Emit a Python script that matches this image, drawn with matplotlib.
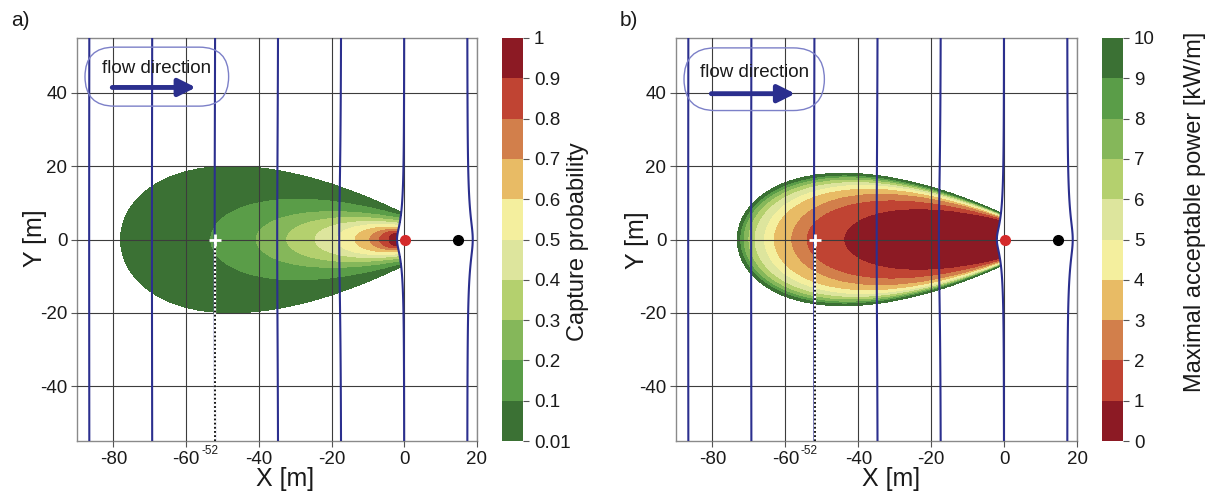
import numpy as np
import matplotlib
matplotlib.use("Agg")
import matplotlib.pyplot as plt
from matplotlib.patches import FancyBboxPatch

plt.rcParams['font.family'] = ['Liberation Sans', 'DejaVu Sans']
plt.rcParams['axes.unicode_minus'] = False

# ---------------- data ----------------
x_ticks = [-80, -60, -40, -20, 0, 20]
y_ticks = [-40, -20, 0, 20, 40]
x_limits = [-90, 20]
y_limits = [-55, 55]

band_colors = ['#3b7134', '#5a9d48', '#85b75a', '#b4d06e', '#dde59d',
               '#f4ef9e', '#e8bb65', '#d27f4b', '#c04433', '#8c1a24']

# panel a: capture probability
prob_levels = [0.01, 0.1, 0.2, 0.3, 0.4, 0.5, 0.6, 0.7, 0.8, 0.9, 1.0]
prob_tick_labels = ['0.01', '0.1', '0.2', '0.3', '0.4', '0.5', '0.6', '0.7', '0.8', '0.9', '1']
# iso-lines "probability >= level" (levels 0.01 ... 0.9)
prob_left_x = [-78.0, -53.2, -40.7, -32.3, -24.5, -18.5, -13.5, -9.5, -6.8, -4.2]
prob_max_half = [20.0, 11.0, 7.6, 6.0, 4.9, 4.1, 3.4, 2.8, 2.3, 1.8]
prob_end_half = [7.0, 6.3, 5.6, 4.9, 4.3, 3.7, 3.2, 2.7, 2.2, 1.7]

# panel b: maximal acceptable power
power_levels = [0, 1, 2, 3, 4, 5, 6, 7, 8, 9, 10]
power_tick_labels = ['0', '1', '2', '3', '4', '5', '6', '7', '8', '9', '10']
# iso-lines "power <= level" (levels 1 ... 10)
power_left_x = [-44.0, -54.3, -58.5, -63.3, -66.0, -68.6, -70.3, -71.6, -72.5, -73.2]
power_max_half = [8.4, 10.8, 12.6, 14.0, 15.0, 15.8, 16.5, 17.1, 17.6, 18.1]
power_end_half = [5.2, 5.6, 5.9, 6.1, 6.3, 6.5, 6.6, 6.7, 6.8, 6.9]

# groundwater head lines (equipotentials, x position far from the wells)
equipotential_x = [-86.5, -69.2, -51.9, -34.6, -17.3, 0.0, 17.3]
abstraction_well_x = 0.3
injection_well_x = 14.8
well_strength = 1.0
start_point_x = -52

flow_box_a = dict(x0=-87.8, x1=-48.3, y0=36.4, y1=52.5, text_y=46.8, arrow_y=41.5)
flow_box_b = dict(x0=-87.8, x1=-49.3, y0=35.2, y1=52.3, text_y=45.6, arrow_y=39.8)

# ---------------- helpers ----------------
W, H = 1210, 491
DPI = 100


def px_rect(x0, x1, ytop, ybot):
    return [x0 / W, 1 - ybot / H, (x1 - x0) / W, (ybot - ytop) / H]


def head(X, Y):
    ra = np.hypot(X - abstraction_well_x, Y)
    ri = np.hypot(X - injection_well_x, Y)
    return -X + well_strength * (np.log(ra) - np.log(ri))


def taper(r):
    ks = np.linspace(1 / 3, 0.999, 4000)
    vals = (1 - ks) * 1.5 * np.sqrt(3 * ks)
    if r >= 1:
        return 1 / 3
    return ks[np.argmin(np.abs(vals - r))]


def inside(X, Y, xl, B, e, xr=0.0):
    t = (X - xl) / (xr - xl)
    tc = np.clip(t, 0, 1)
    k = taper(e / B)
    g = np.sqrt(tc) * (1 - k * tc)
    gmax = (2 / 3) / np.sqrt(3 * k)
    h = B * g / gmax
    return (t >= 0) & (t <= 1) & (np.abs(Y) <= h)


fx = np.linspace(-80, 2, 1400)
fy = np.linspace(-22, 22, 900)
FX, FY = np.meshgrid(fx, fy)
upstream = head(FX, FY) > 0.0

field_a = np.zeros_like(FX)
for i in range(len(prob_left_x)):
    m = inside(FX, FY, prob_left_x[i], prob_max_half[i], prob_end_half[i]) & upstream
    field_a[m] = 0.5 * (prob_levels[i] + prob_levels[i + 1])

field_b = np.full_like(FX, 11.0)
for i in range(len(power_left_x) - 1, -1, -1):
    m = inside(FX, FY, power_left_x[i], power_max_half[i], power_end_half[i]) & upstream
    field_b[m] = power_levels[i + 1] - 0.5

hx = np.linspace(-90, 20, 1100)
hy = np.linspace(-55, 55, 1100)
HX, HY = np.meshgrid(hx, hy)
HH = head(HX, HY)

fig = plt.figure(figsize=(W / DPI, H / DPI), dpi=DPI)

panels = [
    dict(ax=px_rect(77, 477, 38, 441), cax=px_rect(502, 523, 38, 441),
         field=field_a, levels=prob_levels, colors=band_colors,
         ticklabels=prob_tick_labels, cblabel='Capture probability',
         cblabel_xy=(578, 242), letter='a)', letter_xy=(20, 21),
         xlabel_xy=(285, 479), ylabel_xy=(35, 238), box=flow_box_a),
    dict(ax=px_rect(676, 1077, 38, 441), cax=px_rect(1102, 1123, 38, 441),
         field=field_b, levels=power_levels, colors=band_colors[::-1],
         ticklabels=power_tick_labels, cblabel='Maximal acceptable power [kW/m]',
         cblabel_xy=(1195, 212), letter='b)', letter_xy=(629, 21),
         xlabel_xy=(891, 479), ylabel_xy=(637, 240), box=flow_box_b),
]

blue = '#2b2f8e'
for p in panels:
    ax = fig.add_axes(p['ax'])
    cs = ax.contourf(FX, FY, p['field'], levels=p['levels'], colors=p['colors'], zorder=1)
    ax.set_xlim(*x_limits)
    ax.set_ylim(*y_limits)
    ax.set_xticks(x_ticks)
    ax.set_yticks(y_ticks)
    ax.grid(True, color='#3c3c3c', lw=0.8, zorder=2)
    ax.set_axisbelow(False)
    for sp in ax.spines.values():
        sp.set_color('#8a8a8a')
        sp.set_linewidth(1.0)
    ax.tick_params(direction='out', length=4, width=0.8, color='#555555',
                   labelsize=13.5, labelcolor='#1a1a1a', pad=3)
    # equipotential lines
    ax.contour(HX, HY, HH, levels=sorted([-v for v in equipotential_x]),
               colors=blue, linewidths=1.5, linestyles='solid', zorder=3)
    # start point marker and dotted line
    ax.plot([start_point_x, start_point_x], [0, y_limits[0]], color='white', lw=1.6, zorder=4)
    ax.plot([start_point_x, start_point_x], [0, y_limits[0]], color='black', lw=1.3,
            ls=(0, (1, 1.3)), zorder=5)
    ax.plot([start_point_x], [0], marker='+', color='white', ms=8, mew=2, zorder=6)
    ax.text(start_point_x - 1.5, y_limits[0] - 1.0, '-52', fontsize=8.5, ha='center', va='top',
            color='#1a1a1a')
    # wells
    ax.plot([abstraction_well_x], [0], 'o', color='#d42a2a', ms=7, zorder=6)
    ax.plot([injection_well_x], [0], 'o', color='black', ms=7, zorder=6)
    # flow direction box
    b = p['box']
    hb = b['y1'] - b['y0']
    ax.add_patch(FancyBboxPatch((b['x0'], b['y0']), b['x1'] - b['x0'], hb,
                                boxstyle=f'round,pad=0,rounding_size={hb / 2}',
                                fc='none', ec='#7c80c8', lw=1.0, zorder=7))
    ax.text(0.5 * (b['x0'] + b['x1']), b['text_y'], 'flow direction', fontsize=13.5,
            ha='center', va='center', color='#1a1a1a', zorder=8)
    ax.annotate('', xy=(b['x0'] + 30.5, b['arrow_y']), xytext=(b['x0'] + 7.5, b['arrow_y']),
                arrowprops=dict(arrowstyle='-|>', lw=3.5, color=blue, mutation_scale=26,
                                shrinkA=0, shrinkB=0), zorder=8)
    # colorbar
    cax = fig.add_axes(p['cax'])
    cb = fig.colorbar(cs, cax=cax, ticks=p['levels'])
    cb.set_ticklabels(p['ticklabels'])
    cb.outline.set_visible(False)
    cax.tick_params(length=4, width=0.8, color='#555555', labelsize=13.5,
                    labelcolor='#1a1a1a', pad=4)
    fig.text(p['cblabel_xy'][0] / W, 1 - p['cblabel_xy'][1] / H, p['cblabel'],
             rotation=90, ha='center', va='center', fontsize=17, color='#1a1a1a')
    fig.text(p['letter_xy'][0] / W, 1 - p['letter_xy'][1] / H, p['letter'],
             ha='center', va='center', fontsize=15, color='#1a1a1a')
    fig.text(p['xlabel_xy'][0] / W, 1 - p['xlabel_xy'][1] / H, 'X [m]',
             ha='center', va='center', fontsize=18, color='#1a1a1a')
    fig.text(p['ylabel_xy'][0] / W, 1 - p['ylabel_xy'][1] / H, 'Y [m]', rotation=90,
             ha='center', va='center', fontsize=18, color='#1a1a1a')

fig.savefig('out.png', dpi=DPI)
